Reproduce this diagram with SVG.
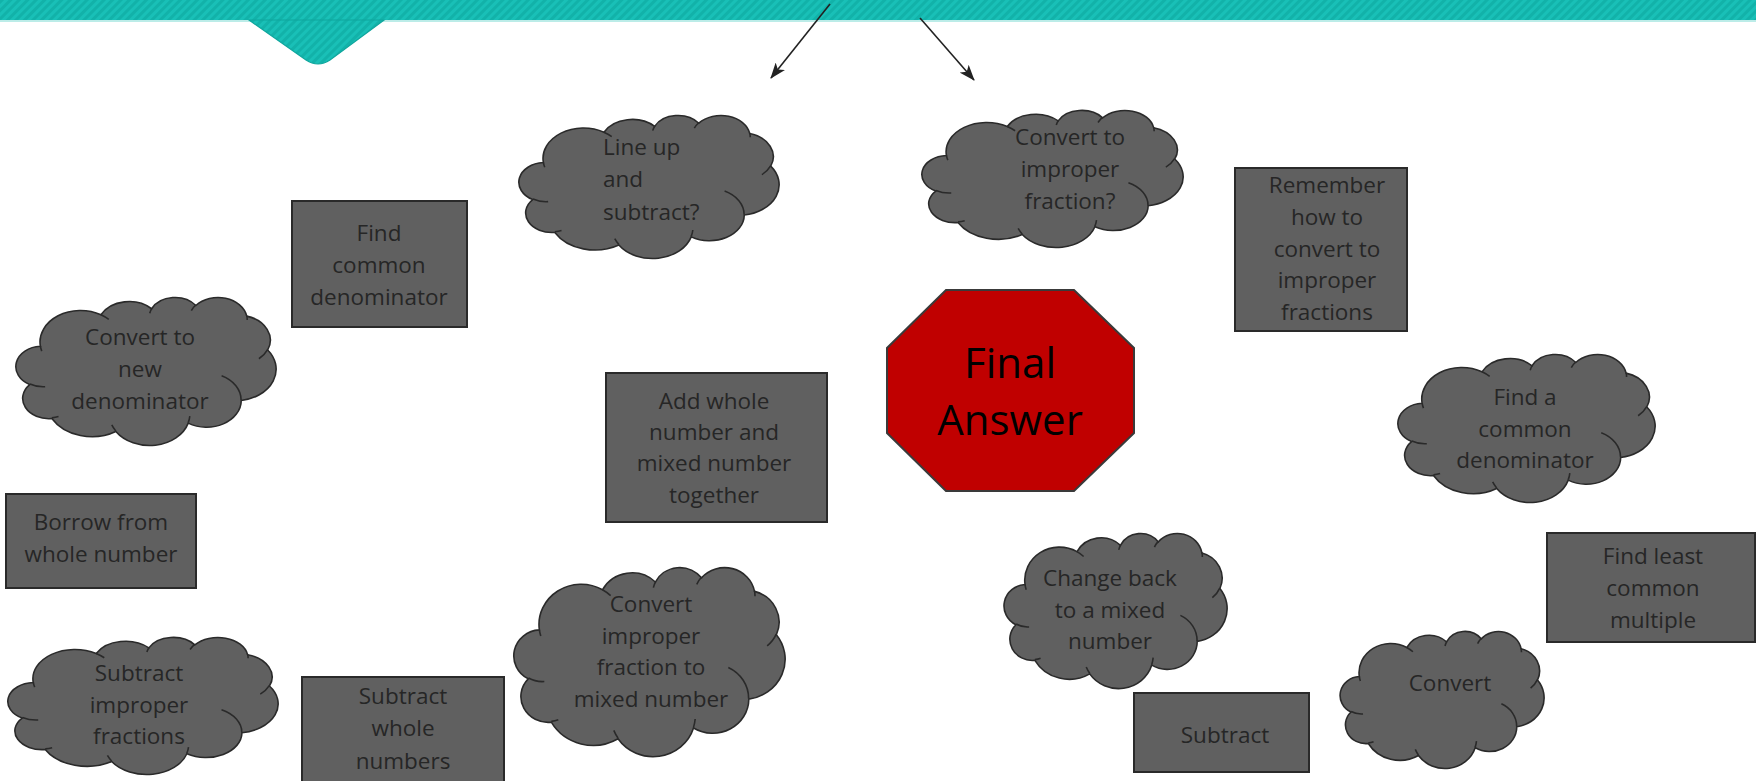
<svg xmlns="http://www.w3.org/2000/svg" xmlns:xlink="http://www.w3.org/1999/xlink" width="1756" height="781" viewBox="0 0 1756 781">
<style>
.box{fill:#606060;stroke:#2a2a2a;stroke-width:2}
.cb{fill:#606060;stroke:#2a2a2a;stroke-width:1.6}
.ci{fill:none;stroke:#2a2a2a;stroke-width:1.6}
.t{font-family:"Open Sans","Noto Sans","Liberation Sans",sans-serif;font-size:22.5px;fill:#262626;text-anchor:middle}
.tl{text-anchor:start}
.fa{font-family:"Open Sans","Noto Sans","Liberation Sans",sans-serif;font-size:42px;fill:#000;text-anchor:middle}
.conn{stroke:#222;stroke-width:1.6;fill:none}
</style>
<defs>
<pattern id="stripes" width="6" height="6" patternUnits="userSpaceOnUse" patternTransform="rotate(45)">
<rect width="6" height="6" fill="#19c0b7"/>
<rect width="3" height="6" fill="#12b2a9"/>
</pattern>
<marker id="ah" markerWidth="16" markerHeight="12" refX="15" refY="6" orient="auto" markerUnits="userSpaceOnUse">
<path d="M0,0 L16,6 L0,12 L4,6 Z" fill="#222"/>
</marker>
<g id="cloud">
<path class="cb" vector-effect="non-scaling-stroke" d="M39,143.7 A67.53,91.9 0 0 1 140.05,52.02 A53.33,72.67 0 0 1 224.58,34.32 A43.65,59.45 0 0 1 298.35,24.79 A48.57,65.95 0 0 1 383.21,55.74 A53.33,72.73 0 0 1 418.22,154.58 A67.75,92.2 0 0 1 374.08,302.02 A57.85,78.67 0 0 1 285.61,368.13 A67.52,92.15 0 0 1 164.87,392.69 A77.2,105.43 0 0 1 58.11,354.76 A43.6,59.18 0 0 1 21.17,255.58 A43.45,59.45 0 0 1 39,143.7 Z"/>
<path class="ci" vector-effect="non-scaling-stroke" d="M46.93,261.77 A43.45,59.45 0 0 1 21.59,253.8 M69.28,348.99 A43.6,59.18 0 0 1 58.2,352.81 M164.78,390.9 A67.52,92.15 0 0 1 158.08,373.44 M288.27,347.51 A67.52,92.15 0 0 1 285.61,366.59 M341.29,229.54 A57.85,78.67 0 0 1 373.8,300.9 M417.98,153.54 A53.33,72.73 0 0 1 403.49,180.31 M383.24,54.26 A48.57,65.95 0 0 1 384,66.9 M290.78,39.52 A48.57,65.95 0 0 1 298.19,23.4 M221.41,47.2 A43.65,59.45 0 0 1 225,33.31 M140,51.92 A67.53,91.9 0 0 1 153.03,65.44 M41.27,157.89 A67.53,91.9 0 0 1 39,143.71"/>
</g>
</defs>

<g id="banner">
<rect x="0" y="0" width="1756" height="20" fill="url(#stripes)"/>
<line x1="0" y1="21" x2="1756" y2="21" stroke="#a6e6e1" stroke-width="1.5"/>
<path d="M249,20 L306,60 Q318,68 330,60 L384,20 Z" fill="url(#stripes)" stroke="#0fa69d" stroke-width="1.2"/>
</g>

<g id="connectors">
<line class="conn" x1="830" y1="4" x2="771" y2="78" marker-end="url(#ah)"/>
<line class="conn" x1="920" y1="18" x2="974" y2="80" marker-end="url(#ah)"/>
</g>

<g id="line-up">
<use xlink:href="#cloud" transform="translate(520,115) scale(0.5995,0.331)"/>
<text class="t tl" x="603" y="155">Line up</text>
<text class="t tl" x="603" y="187">and</text>
<text class="t tl" x="603" y="220">subtract?</text>
</g>

<g id="convert-improper">
<use xlink:href="#cloud" transform="translate(923,110) scale(0.6019,0.3171)"/>
<text class="t" x="1070" y="145">Convert to</text>
<text class="t" x="1070" y="177">improper</text>
<text class="t" x="1070" y="209">fraction?</text>
</g>

<g id="find-common-denominator">
<rect class="box" x="292" y="201" width="175" height="126"/>
<text class="t" x="379" y="241">Find</text>
<text class="t" x="379" y="273">common</text>
<text class="t" x="379" y="305">denominator</text>
</g>

<g id="convert-new-denominator">
<use xlink:href="#cloud" transform="translate(17,297) scale(0.5995,0.3426)"/>
<text class="t" x="140" y="345">Convert to</text>
<text class="t" x="140" y="377">new</text>
<text class="t" x="140" y="409">denominator</text>
</g>

<g id="borrow">
<rect class="box" x="6" y="494" width="190" height="94"/>
<text class="t" x="101" y="530">Borrow from</text>
<text class="t" x="101" y="562">whole number</text>
</g>

<g id="subtract-improper">
<use xlink:href="#cloud" transform="translate(9,637) scale(0.6227,0.3171)"/>
<text class="t" x="139" y="681">Subtract</text>
<text class="t" x="139" y="713">improper</text>
<text class="t" x="139" y="744">fractions</text>
</g>

<g id="subtract-whole">
<rect class="box" x="302" y="677" width="202" height="112"/>
<text class="t" x="403" y="704">Subtract</text>
<text class="t" x="403" y="736">whole</text>
<text class="t" x="403" y="769">numbers</text>
</g>

<g id="add-whole">
<rect class="box" x="606" y="373" width="221" height="149"/>
<text class="t" x="714" y="409">Add whole</text>
<text class="t" x="714" y="440">number and</text>
<text class="t" x="714" y="471">mixed number</text>
<text class="t" x="714" y="503">together</text>
</g>

<g id="convert-to-mixed">
<use xlink:href="#cloud" transform="translate(515,567) scale(0.625,0.4375)"/>
<text class="t" x="651" y="612">Convert</text>
<text class="t" x="651" y="644">improper</text>
<text class="t" x="651" y="675">fraction to</text>
<text class="t" x="651" y="707">mixed number</text>
</g>

<g id="final-answer">
<polygon points="946,290 1074,290 1134,348 1134,433 1074,491 946,491 887,433 887,348" fill="#c00000" stroke="#3a3a3a" stroke-width="2"/>
<text class="fa" x="1010" y="378">Final</text>
<text class="fa" x="1010" y="435">Answer</text>
</g>

<g id="remember">
<rect class="box" x="1235" y="168" width="172" height="163"/>
<text class="t" x="1327" y="193">Remember</text>
<text class="t" x="1327" y="225">how to</text>
<text class="t" x="1327" y="257">convert to</text>
<text class="t" x="1327" y="288">improper</text>
<text class="t" x="1327" y="320">fractions</text>
</g>

<g id="find-a-common">
<use xlink:href="#cloud" transform="translate(1399,354) scale(0.5926,0.3426)"/>
<text class="t" x="1525" y="405">Find a</text>
<text class="t" x="1525" y="437">common</text>
<text class="t" x="1525" y="468">denominator</text>
</g>

<g id="change-back">
<use xlink:href="#cloud" transform="translate(1005,533) scale(0.5139,0.3588)"/>
<text class="t" x="1110" y="586">Change back</text>
<text class="t" x="1110" y="618">to a mixed</text>
<text class="t" x="1110" y="649">number</text>
</g>

<g id="subtract">
<rect class="box" x="1134" y="693" width="175" height="79"/>
<text class="t" x="1225" y="743">Subtract</text>
</g>

<g id="find-least">
<rect class="box" x="1547" y="533" width="208" height="109"/>
<text class="t" x="1653" y="564">Find least</text>
<text class="t" x="1653" y="596">common</text>
<text class="t" x="1653" y="628">multiple</text>
</g>

<g id="convert">
<use xlink:href="#cloud" transform="translate(1341,631) scale(0.4699,0.3171)"/>
<text class="t" x="1450" y="691">Convert</text>
</g>
</svg>
